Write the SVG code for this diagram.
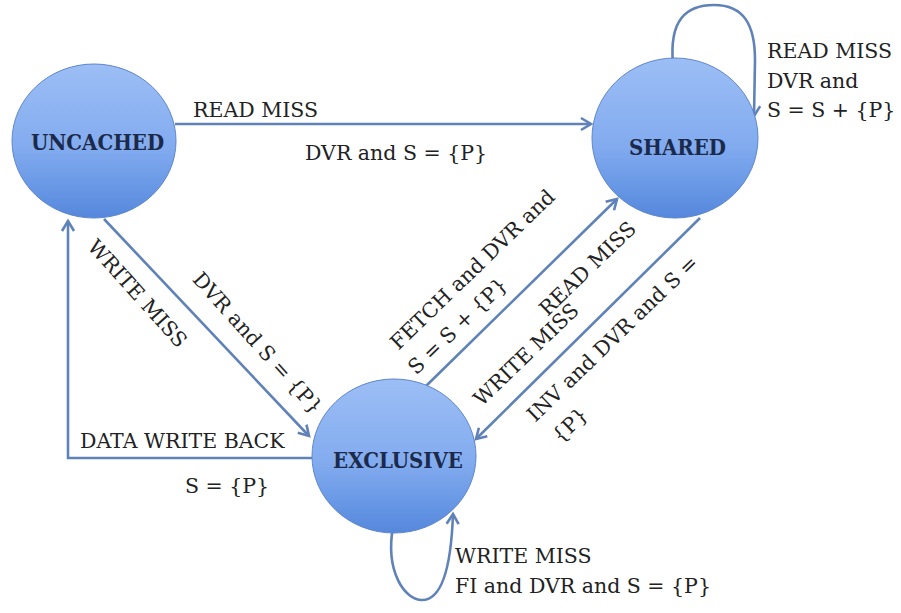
<svg xmlns="http://www.w3.org/2000/svg" width="901" height="613" viewBox="0 0 901 613">
  <defs>
    <linearGradient id="ball" x1="0" y1="0" x2="0" y2="1">
      <stop offset="0" stop-color="#9cbef5"/>
      <stop offset="0.55" stop-color="#82abef"/>
      <stop offset="0.82" stop-color="#6696e4"/>
      <stop offset="1" stop-color="#5587dc"/>
    </linearGradient>
    <marker id="head" markerUnits="userSpaceOnUse" markerWidth="20" markerHeight="20" refX="0" refY="0" viewBox="-12 -10 14 20" orient="auto" overflow="visible">
      <path d="M-10,-6 L0,0 L-10,6" fill="none" stroke="#5f82b9" stroke-width="2.6" stroke-linejoin="miter"/>
    </marker>
    <style>
      .state ellipse { fill: url(#ball); stroke: #5f86cc; stroke-width: 1; }
      .state text { font-family: "DejaVu Serif", "Liberation Serif", serif; font-stretch: condensed; font-weight: bold; font-size: 22px; fill: #1b2a4a; text-anchor: middle; }
      .edge { fill: none; stroke: #5f82b9; stroke-width: 2.6; marker-end: url(#head); }
      .lbl { font-family: "DejaVu Serif", "Liberation Serif", serif; font-size: 20.5px; fill: #222222; }
      .mid { text-anchor: middle; }
    </style>
  </defs>

  <rect width="901" height="613" fill="#ffffff"/>

  <!-- transitions -->
  <g id="connectors">
    <path class="edge" d="M175,124 L591,124"/>
    <path class="edge" d="M673,64 C669,20 686,5 714,5 C744,5 755,25 755,60 L754,116"/>
    <path class="edge" d="M104,219 L309,436"/>
    <path class="edge" d="M312,458 L68,458 L68,221"/>
    <path class="edge" d="M425,387 L617,199"/>
    <path class="edge" d="M700,218 L476,439"/>
    <path class="edge" d="M393,527 C385,572 405,600 422,600 C441,600 451,570 453,514"/>
  </g>

  <!-- states -->
  <g id="uncached" class="state">
    <ellipse cx="94" cy="141" rx="82" ry="77"/>
    <text x="97.5" y="150">UNCACHED</text>
  </g>
  <g id="shared" class="state">
    <ellipse cx="675" cy="138" rx="83" ry="80"/>
    <text x="677.5" y="155">SHARED</text>
  </g>
  <g id="exclusive" class="state">
    <ellipse cx="394" cy="456" rx="82" ry="77"/>
    <text x="398" y="468">EXCLUSIVE</text>
  </g>

  <!-- transition labels -->
  <g id="labels">
    <text class="lbl" x="193" y="117">READ MISS</text>
    <text class="lbl" x="305" y="160">DVR and S = {P}</text>

    <text class="lbl" x="767" y="58">READ MISS</text>
    <text class="lbl" x="767" y="88">DVR and</text>
    <text class="lbl" x="767" y="117">S = S + {P}</text>

    <text class="lbl" x="80" y="448">DATA WRITE BACK</text>
    <text class="lbl" x="185" y="493">S = {P}</text>

    <text class="lbl" x="455" y="563">WRITE MISS</text>
    <text class="lbl" x="455" y="593">FI and DVR and S = {P}</text>

    <text class="lbl mid" transform="translate(137.5,293.5) rotate(48)" y="7">WRITE MISS</text>
    <text class="lbl mid" transform="translate(257.5,343) rotate(48)" y="7">DVR and S = {P}</text>

    <text class="lbl mid" transform="translate(472.5,269.5) rotate(-44)" y="7">FETCH and DVR and</text>
    <text class="lbl mid" transform="translate(457.5,326) rotate(-44)" y="7">S = S + {P}</text>
    <text class="lbl mid" transform="translate(587.5,268.5) rotate(-44)" y="7">READ MISS</text>
    <text class="lbl mid" transform="translate(526,354.5) rotate(-44)" y="7">WRITE MISS</text>
    <text class="lbl mid" transform="translate(612.5,338.5) rotate(-44)" y="7">INV and DVR and S =</text>
    <text class="lbl mid" transform="translate(570,425) rotate(-44)" y="7">{P}</text>
  </g>
</svg>
